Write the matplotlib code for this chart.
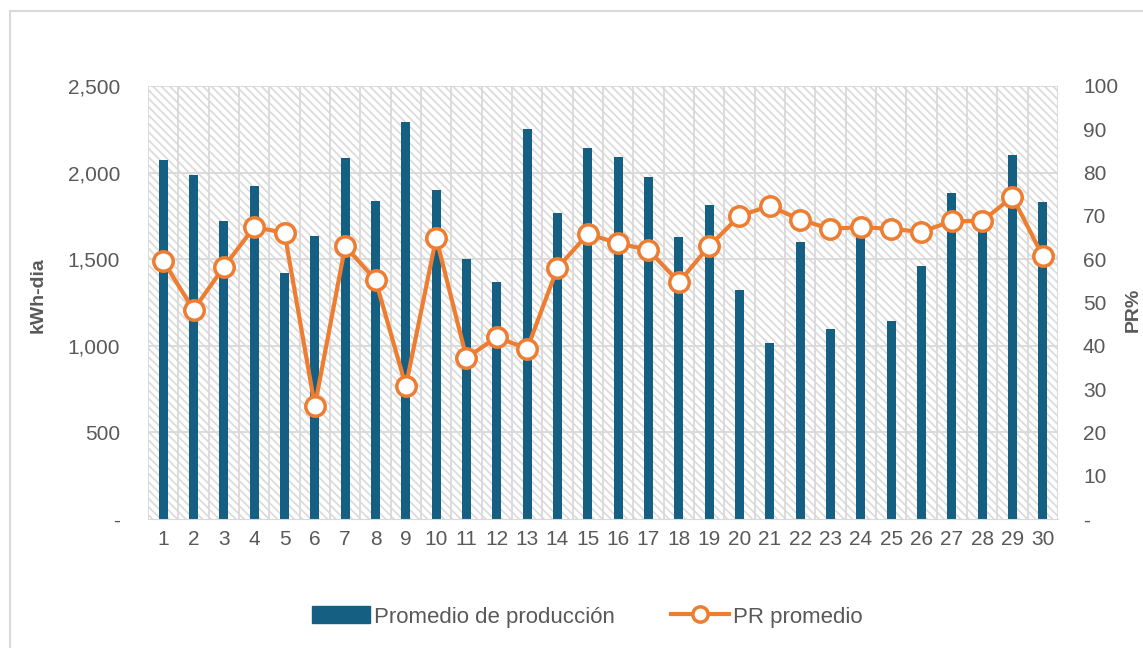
import matplotlib.pyplot as plt
from matplotlib.patches import Rectangle
from matplotlib.ticker import FuncFormatter
from matplotlib.lines import Line2D

plt.rcParams['font.family'] = ['Liberation Sans', 'DejaVu Sans']
plt.rcParams['hatch.linewidth'] = 1.3
plt.rcParams['hatch.color'] = '#dcdcdc'

days = list(range(1, 31))
produccion = [2073, 1986, 1721, 1923, 1420, 1634, 2084, 1836, 2292, 1900,
              1501, 1368, 2252, 1767, 2142, 2090, 1975, 1628, 1813, 1322,
              1016, 1599, 1097, 1628, 1143, 1461, 1882, 1690, 2102, 1830]
pr = [59.6, 48.3, 58.2, 67.4, 66.1, 26.1, 63.0, 55.2, 30.7, 64.9,
      37.2, 42.0, 39.3, 58.0, 65.8, 63.7, 62.1, 54.7, 63.0, 70.0,
      72.3, 69.1, 67.0, 67.4, 67.0, 66.3, 68.8, 68.8, 74.4, 60.7]

blue = '#156082'
orange = '#ED7D31'
grid = '#d9d9d9'
txt = '#595959'

fig = plt.figure(figsize=(11.43, 6.48), dpi=100)
fig.patches.append(Rectangle((10 / 1143, -0.1), 1.2, 1 - 11 / 648 + 0.1,
                             transform=fig.transFigure, fill=False,
                             edgecolor=grid, linewidth=1.5))
ax = fig.add_axes([0.1295, 0.1991, 0.7961, 0.6682])
ax2 = ax.twinx()

# hatched plot background
ax.add_patch(Rectangle((0, 0), 1, 1, transform=ax.transAxes, facecolor='white',
                       hatch='\\\\\\\\', edgecolor='#dcdcdc', linewidth=0, zorder=0))

ax.set_xlim(0.5, 30.5)
ax.set_ylim(0, 2500)
ax2.set_ylim(0, 100)

for x in range(31):
    ax.axvline(x + 0.5, color=grid, lw=1.3, zorder=1)
for y in range(500, 2501, 500):
    ax.axhline(y, color=grid, lw=1.3, zorder=1)

ax.bar(days, produccion, width=0.3, color=blue, zorder=2)
ax2.plot(days, pr, color=orange, lw=3, marker='o', markersize=14,
         markerfacecolor='white', markeredgecolor=orange, markeredgewidth=2.5, zorder=3)

ax.set_xticks(days)
ax.set_yticks(range(0, 2501, 500))
ax2.set_yticks(range(0, 101, 10))
ax.yaxis.set_major_formatter(FuncFormatter(lambda v, p: '-' if v == 0 else f'{int(v):,}'))
ax2.yaxis.set_major_formatter(FuncFormatter(lambda v, p: '-' if v == 0 else f'{int(v)}'))

for a in (ax, ax2):
    a.tick_params(length=0, labelsize=15, labelcolor=txt)
    for s in a.spines.values():
        s.set_visible(False)
ax.tick_params(axis='y', pad=20)
ax2.tick_params(axis='y', pad=18)
ax.tick_params(axis='x', pad=8)
ax.spines['bottom'].set_visible(True)
ax.spines['bottom'].set_color(grid)

fig.text(38 / 1143, 1 - 295 / 648, 'kWh-dia', rotation=90, ha='center', va='center',
         fontsize=14, fontweight='bold', color=txt)
fig.text(1133 / 1143, 1 - 310 / 648, 'PR%', rotation=90, ha='center', va='center',
         fontsize=14, fontweight='bold', color=txt)

handles = [Rectangle((0, 0), 1, 1, color=blue),
           Line2D([], [], color=orange, lw=3, marker='o', markersize=11,
                  markerfacecolor='white', markeredgecolor=orange, markeredgewidth=2.5)]
fig.legend(handles, ['Promedio de producción', 'PR promedio'], loc='center',
           bbox_to_anchor=(0.514, 0.048), ncol=2, frameon=False, fontsize=16,
           labelcolor=txt, handlelength=2.6, handleheight=0.8, handletextpad=0.2,
           columnspacing=2.5)

fig.savefig('out.png', dpi=100)
